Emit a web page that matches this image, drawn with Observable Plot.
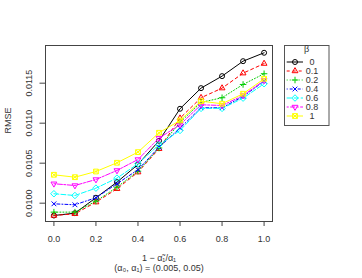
<!DOCTYPE html>
<html><head><meta charset="utf-8">
<script src="https://cdn.jsdelivr.net/npm/d3@7"></script>
<script src="https://cdn.jsdelivr.net/npm/@observablehq/plot@0.6"></script>
<style>body{margin:0;background:#fff}</style>
</head><body><div id="chart"></div>
<script>
const xs = [0, 0.1, 0.2, 0.3, 0.4, 0.5, 0.6, 0.7, 0.8, 0.9, 1.0];
const betaLabels = ["0", "0.1", "0.2", "0.4", "0.6", "0.8", "1"];
const rmse_b0   = [0.009846, 0.009875, 0.010068, 0.010263, 0.010484, 0.010780, 0.011180, 0.011438, 0.011588, 0.011775, 0.011880];
const rmse_b01  = [0.009846, 0.009867, 0.010013, 0.010180, 0.010388, 0.010680, 0.011062, 0.011318, 0.011438, 0.011625, 0.011745];
const rmse_b02  = [0.009888, 0.009888, 0.010025, 0.010200, 0.010400, 0.010690, 0.011010, 0.011260, 0.011318, 0.011484, 0.011618];
const rmse_b04  = [0.009992, 0.009980, 0.010068, 0.010243, 0.010418, 0.010700, 0.010938, 0.011193, 0.011193, 0.011334, 0.011525];
const rmse_b06  = [0.010118, 0.010096, 0.010188, 0.010313, 0.010493, 0.010730, 0.010909, 0.011185, 0.011185, 0.011313, 0.011493];
const rmse_b08  = [0.010243, 0.010221, 0.010296, 0.010409, 0.010546, 0.010813, 0.010980, 0.011230, 0.011221, 0.011346, 0.011534];
const rmse_b1   = [0.010355, 0.010325, 0.010396, 0.010505, 0.010638, 0.010880, 0.011034, 0.011275, 0.011243, 0.011368, 0.011555];
const seriesValues = [rmse_b0, rmse_b01, rmse_b02, rmse_b04, rmse_b06, rmse_b08, rmse_b1];
const xTicks = [0, 0.2, 0.4, 0.6, 0.8, 1.0];
const yTicks = [0.0100, 0.0105, 0.0110, 0.0115];

// styles
const colors = ["black", "red", "#00CD00", "blue", "cyan", "magenta", "yellow"];
const dashes = [null, "3,3", "1,2", "1,2,3,2", "5,2", "2,1.5,5,1.5", null];
const Rr = s => Math.sqrt(s / Math.PI);
const symCircle = {draw(c, s) { const r = Rr(s); c.moveTo(r, 0); c.arc(0, 0, r, 0, 2 * Math.PI); }};
const symTriUp = {draw(c, s) { const r = Rr(s) * 1.35; c.moveTo(0, -r); c.lineTo(r * 0.866, r * 0.5); c.lineTo(-r * 0.866, r * 0.5); c.closePath(); }};
const symPlus = {draw(c, s) { const r = Rr(s) * 1.3; c.moveTo(-r, 0); c.lineTo(r, 0); c.moveTo(0, -r); c.lineTo(0, r); }};
const symTimes = {draw(c, s) { const r = Rr(s) * 0.95; c.moveTo(-r, -r); c.lineTo(r, r); c.moveTo(-r, r); c.lineTo(r, -r); }};
const symDiamond = {draw(c, s) { const r = Rr(s) * 1.3; c.moveTo(0, -r); c.lineTo(r, 0); c.lineTo(0, r); c.lineTo(-r, 0); c.closePath(); }};
const symTriDown = {draw(c, s) { const r = Rr(s) * 1.35; c.moveTo(0, r); c.lineTo(r * 0.866, -r * 0.5); c.lineTo(-r * 0.866, -r * 0.5); c.closePath(); }};
const symSqX = {draw(c, s) { const r = Rr(s) * 0.95; c.rect(-r, -r, 2 * r, 2 * r); c.moveTo(-r, -r); c.lineTo(r, r); c.moveTo(-r, r); c.lineTo(r, -r); }};
const symbols = [symCircle, symTriUp, symPlus, symTimes, symDiamond, symTriDown, symSqX];

const rows = [];
seriesValues.forEach((vals, i) => vals.forEach((v, j) => rows.push({beta: betaLabels[i], si: i, x: xs[j], y: v})));

const marks = [Plot.frame({stroke: "#444"})];
betaLabels.forEach((b, i) => {
  const d = rows.filter(r => r.si === i);
  marks.push(Plot.line(d, {x: "x", y: "y", stroke: colors[i], strokeWidth: 1, strokeDasharray: dashes[i] || undefined}));
  marks.push(Plot.dot(d, {x: "x", y: "y", stroke: colors[i], fill: "none", strokeWidth: 1, r: 2.5, symbol: symbols[i]}));
});
marks.push(
  Plot.axisX({ticks: xTicks, tickSize: 5, tickPadding: 9, tickFormat: d => d.toFixed(1), stroke: "#444", fill: "#333", label: null}),
  Plot.axisY({ticks: yTicks, tickSize: 5.5, tickFormat: () => "", stroke: "#444", label: null}),
  Plot.text(yTicks, {y: d => d, frameAnchor: "left", dx: -16, rotate: -90, text: d => d.toFixed(4), fill: "#333", textAnchor: "middle", lineAnchor: "middle"}),
  Plot.text(["RMSE"], {frameAnchor: "left", dx: -37, rotate: -90, text: d => d, fill: "#333", lineAnchor: "middle"}),
  Plot.text(["1 \u2212 \u03B1\u0303\u2081/\u03B1\u2081"], {frameAnchor: "bottom", dy: 37, text: d => d, fill: "#333", lineAnchor: "middle"}),
  Plot.text(["(\u03B1\u2080, \u03B1\u2081) = (0.005, 0.05)"], {frameAnchor: "bottom", dy: 47, text: d => d, fill: "#333", lineAnchor: "middle"})
);

const plot = Plot.plot({
  width: 362, height: 278,
  marginLeft: 45, marginRight: 90, marginTop: 45, marginBottom: 57,
  style: {fontFamily: "'Liberation Sans', Arial, sans-serif", fontSize: "9px", background: "white", color: "#333"},
  x: {domain: [-0.04, 1.04]},
  y: {domain: [0.009771, 0.011971]},
  marks
});
document.getElementById("chart").appendChild(plot);

// legend
const svg = d3.select(plot);
const lg = svg.append("g").attr("font-family", "'Liberation Sans', Arial, sans-serif").attr("font-size", 9);
lg.append("rect").attr("x", 284.5).attr("y", 45.5).attr("width", 44.5).attr("height", 80).attr("fill", "white").attr("stroke", "#555");
lg.append("text").attr("x", 306.7).attr("y", 49).attr("dy", "0.32em").attr("text-anchor", "middle").attr("fill", "#333").text("\u03B2");
betaLabels.forEach((b, i) => {
  const y = 62 + 9 * i;
  lg.append("line").attr("x1", 286.7).attr("x2", 303).attr("y1", y).attr("y2", y)
    .attr("stroke", colors[i]).attr("stroke-dasharray", dashes[i]);
  lg.append("path").attr("transform", `translate(295,${y})`)
    .attr("d", d3.symbol(symbols[i], Math.PI * 2.5 * 2.5)())
    .attr("fill", "none").attr("stroke", colors[i]);
  lg.append("text").attr("x", 312).attr("y", y).attr("dy", "0.35em").attr("fill", "#333").text(b);
});
</script></body></html>
